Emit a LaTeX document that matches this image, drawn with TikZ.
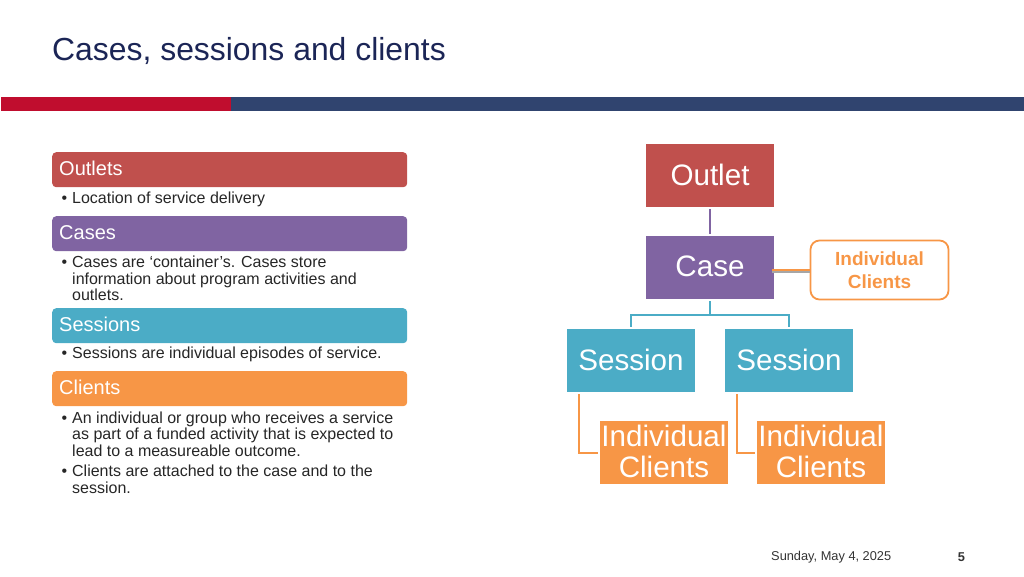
\documentclass[tikz,border=0pt]{standalone}
\usepackage{fontspec}
\setmainfont{Liberation Sans}
\definecolor{outletred}{HTML}{C0504D}
\definecolor{casepurple}{HTML}{8064A2}
\definecolor{sessionteal}{HTML}{4BACC6}
\definecolor{clientorange}{HTML}{F79646}
\definecolor{barred}{HTML}{C00D2E}
\definecolor{barnavy}{HTML}{30446F}
\definecolor{titlenavy}{HTML}{1B2556}
\tikzstyle{header}=[anchor=north west,minimum width=355pt,minimum height=35pt,inner sep=0pt,rounded corners=4pt,text=white,font=\fontsize{20}{22}\selectfont]
\tikzstyle{headertext}=[anchor=west,inner sep=0pt,text=white,font=\fontsize{20}{22}\selectfont]
\tikzstyle{body}=[anchor=west,inner sep=0pt,align=left,text=black!85,font=\fontsize{16}{16.7}\selectfont]
\tikzstyle{box}=[minimum width=128pt,minimum height=63pt,inner sep=0pt,outer sep=2pt,align=center,text depth=2pt,text=white,font=\fontsize{29.600}{31}\selectfont]
\tikzstyle{edge}=[draw,line width=2pt,-]
\tikzstyle{footer}=[inner sep=0pt,text=black!80,font=\fontsize{12.800}{15}\selectfont]
\newcommand{\bulletitem}{\llap{\textbullet\hspace{5pt}}}
\begin{document}
\begin{tikzpicture}[x=1pt,y=-1pt]
\useasboundingbox (0,0) rectangle (1024,576);
% Title and bar
\node[anchor=west,inner sep=0pt,text=titlenavy,font=\fontsize{31.900}{34}\selectfont] (title) at (52,51) {Cases, sessions and clients};
\fill[barred] (1,97) rectangle (231,111);
\fill[barnavy] (231,97) rectangle (1024,111);
% Left column headers
\foreach \pos/\name/\col/\la in {{(52,152)/outlets/outletred/Outlets}, {(52,216)/cases/casepurple/Cases}, {(52,308)/sessions/sessionteal/Sessions}, {(52,371)/clients/clientorange/Clients}}
{
  \node[header,fill=\col] (\name) at \pos {};
  \node[headertext] (\name text) at ([xshift=7pt,yshift=1pt]\name.west) {\la};
}
% Left column bullets
\foreach \pos/\name/\la in {{(72,199)/outletsbody/\bulletitem Location of service delivery}, {(72,278.500)/casesbody/\bulletitem Cases are ‘container’s. Cases store\\information about program activities and\\outlets.}, {(72,354)/sessionsbody/\bulletitem Sessions are individual episodes of service.}, {(72,434)/clientsbodya/\bulletitem An individual or group who receives a service\\as part of a funded activity that is expected to\\lead to a measureable outcome.}, {(72,479)/clientsbodyb/\bulletitem Clients are attached to the case and to the\\session.}}
  \node[body] (\name) at \pos {\la};
% Hierarchy boxes
\foreach \pos/\name/\col/\la in {{(710,175.500)/outlet/outletred/Outlet}, {(710,267.500)/case/casepurple/Case}, {(631,360.500)/sessiona/sessionteal/Session}, {(789,360.500)/sessionb/sessionteal/Session}, {(664,452.500)/clientsa/clientorange/Individual\\Clients}, {(821,452.500)/clientsb/clientorange/Individual\\Clients}}
  \node[box,fill=\col] (\name) at \pos {\la};
\node[draw=clientorange,line width=1.8pt,rounded corners=9pt,minimum width=138pt,minimum height=59pt,inner sep=0pt,align=center,text=clientorange,font=\fontsize{19}{23.500}\selectfont\bfseries] (single) at (879.500,270) {Individual\\Clients};
% Connect boxes
\path[edge,draw=casepurple] (outlet) -- (case);
\foreach \dest in {sessiona,sessionb}
  \path[edge,draw=sessionteal] (case.south) -- ++(0,14) -| (\dest.north);
\path[edge,draw=black!35] ([xshift=-4pt,yshift=-1.500pt]case.east |- single.west) -- ([yshift=-1.500pt]single.west);
\path[edge,draw=clientorange] ([xshift=-4pt]case.east |- single.west) -- (single.west);
\foreach \source/\dest in {sessiona/clientsa,sessionb/clientsb}
  \path[edge,draw=clientorange] ([xshift=14pt]\source.south west) |- (\dest.west);
% Footer
\node[footer,anchor=west] (date) at (771,557) {Sunday, May 4, 2025};
\node[footer,anchor=center,font=\fontsize{12.800}{15}\selectfont\bfseries] (page) at (961.500,557) {5};
\end{tikzpicture}
\end{document}
